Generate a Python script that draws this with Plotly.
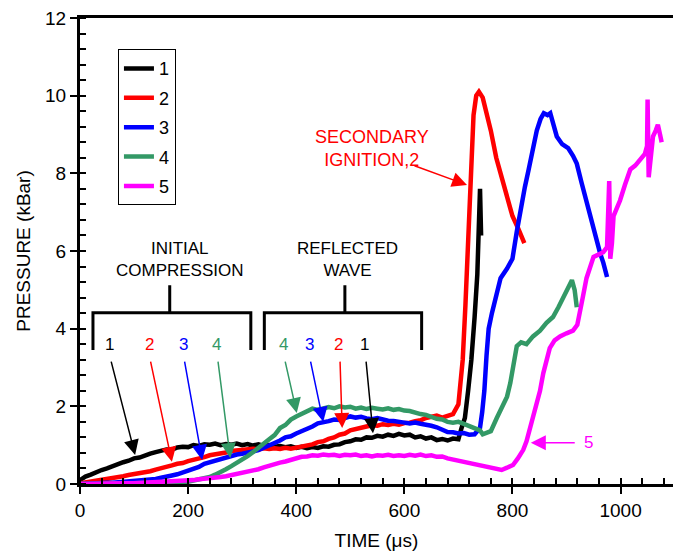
import plotly.graph_objects as go

# Pressure histories (kBar) vs time (microseconds) for gauges 1-5
t1 = [0, 10, 20, 30, 40, 50, 60, 70, 80, 90, 100, 110, 120, 130, 140, 150, 160, 170, 180, 190,
      200, 210, 220, 230, 240, 250, 260, 270, 280, 290, 300, 310, 320, 330, 340, 350, 360, 370,
      380, 390, 400, 410, 420, 430, 440, 450, 460, 470, 480, 490, 500, 510, 520, 530, 540, 550,
      560, 570, 580, 590, 600, 610, 620, 630, 640, 650, 660, 670, 680, 690, 700,
      706, 712, 718, 724, 730, 735, 740, 742]
p1 = [0.10, 0.19, 0.24, 0.31, 0.36, 0.40, 0.46, 0.50, 0.56, 0.60, 0.66, 0.68, 0.74, 0.78, 0.82,
      0.86, 0.89, 0.88, 0.94, 0.96, 0.95, 1.00, 0.98, 1.02, 1.01, 1.04, 1.00, 1.03, 1.01, 1.04,
      1.00, 1.03, 0.99, 1.02, 0.98, 1.00, 0.96, 0.98, 0.95, 0.97, 0.93, 0.96, 0.92, 0.95, 0.93,
      0.97, 0.96, 1.01, 1.02, 1.08, 1.10, 1.15, 1.14, 1.20, 1.19, 1.24, 1.22, 1.27, 1.24, 1.29,
      1.25, 1.27, 1.20, 1.23, 1.17, 1.20, 1.13, 1.16, 1.12, 1.17, 1.15,
      1.45, 1.70, 2.40, 3.20, 4.30, 5.40, 7.60, 6.40]

t2 = [0, 10, 20, 30, 40, 50, 60, 70, 80, 90, 100, 110, 120, 130, 140, 150, 160, 170, 180, 190,
      200, 210, 220, 230, 240, 250, 260, 270, 280, 290, 300, 310, 320, 330, 340, 350, 360, 370,
      380, 390, 400, 410, 420, 430, 440, 450, 460, 470, 480, 490, 500, 510, 520, 530, 540, 550,
      560, 570, 580, 590, 600, 610, 620, 630, 640, 650, 660, 670, 680, 690, 700,
      708, 713, 718, 723, 728, 733, 738, 745, 752, 760, 770, 780, 790, 800, 810, 822]
p2 = [0.02, 0.04, 0.06, 0.08, 0.10, 0.13, 0.15, 0.18, 0.20, 0.23, 0.25, 0.28, 0.31, 0.33, 0.37,
      0.40, 0.44, 0.48, 0.52, 0.54, 0.59, 0.62, 0.66, 0.69, 0.74, 0.76, 0.80, 0.81, 0.85, 0.86,
      0.89, 0.88, 0.91, 0.89, 0.92, 0.90, 0.92, 0.90, 0.93, 0.91, 0.94, 0.95, 0.99, 1.02, 1.08,
      1.10, 1.16, 1.20, 1.27, 1.30, 1.38, 1.42, 1.47, 1.48, 1.51, 1.50, 1.54, 1.52, 1.55, 1.53,
      1.57, 1.58, 1.62, 1.64, 1.70, 1.73, 1.76, 1.71, 1.75, 1.80, 2.05,
      3.20, 4.60, 6.50, 8.20, 9.50, 10.00, 10.10, 9.95, 9.55, 9.10, 8.40, 7.90, 7.30, 6.90, 6.60, 6.20]

t3 = [0, 10, 20, 30, 40, 50, 60, 70, 80, 90, 100, 110, 120, 130, 140, 150, 160, 170, 180, 190,
      200, 210, 220, 230, 240, 250, 260, 270, 280, 290, 300, 310, 320, 330, 340, 350, 360, 370,
      380, 390, 400, 410, 420, 430, 440, 450, 460, 470, 480, 490, 500, 510, 520, 530, 540, 550,
      560, 570, 580, 590, 600, 610, 620, 630, 640, 650, 660, 670, 680, 690, 700, 710, 720, 730,
      740, 744, 748, 752, 756, 762, 770, 778, 790, 800, 808, 815, 823, 830, 836, 845, 852, 858,
      865, 870, 876, 882, 892, 903, 912, 919, 928, 938, 945, 950, 956, 962, 968, 975]
p3 = [0.00, 0.01, 0.01, 0.02, 0.02, 0.03, 0.03, 0.04, 0.05, 0.06, 0.07, 0.09, 0.10, 0.12, 0.13,
      0.16, 0.18, 0.22, 0.25, 0.30, 0.33, 0.39, 0.44, 0.52, 0.56, 0.61, 0.66, 0.69, 0.73, 0.76,
      0.78, 0.80, 0.84, 0.87, 0.93, 0.98, 1.05, 1.12, 1.20, 1.23, 1.30, 1.35, 1.43, 1.48, 1.56,
      1.58, 1.62, 1.66, 1.65, 1.70, 1.74, 1.71, 1.73, 1.69, 1.67, 1.70, 1.66, 1.63, 1.62, 1.59,
      1.58, 1.56, 1.58, 1.55, 1.53, 1.50, 1.46, 1.40, 1.34, 1.33, 1.30, 1.31, 1.27, 1.28,
      1.45, 1.85, 2.40, 3.30, 4.00, 4.40, 4.90, 5.30, 5.55, 5.80, 6.50, 7.10, 7.65, 8.10, 8.50,
      9.10, 9.40, 9.55, 9.50, 9.55, 9.25, 8.95, 8.75, 8.65, 8.45, 8.25, 7.75, 7.20, 6.80, 6.55,
      6.25, 5.95, 5.70, 5.33]

t4 = [0, 20, 40, 60, 80, 100, 120, 140, 160, 180, 200, 210, 220, 230, 240, 250, 260, 270, 280,
      290, 300, 310, 320, 330, 340, 350, 360, 370, 380, 390, 400, 410, 420, 430, 440, 450, 460,
      470, 480, 490, 500, 510, 520, 530, 540, 550, 560, 570, 580, 590, 600, 610, 620, 630, 640,
      650, 660, 670, 680, 690, 700, 710, 720, 730, 740, 745, 760, 771, 780, 790, 796, 801, 808,
      816, 826, 838, 851, 863, 875, 885, 894, 903, 910, 915, 919]
p4 = [0.00, 0.01, 0.01, 0.01, 0.01, 0.02, 0.02, 0.02, 0.03, 0.04, 0.06, 0.09, 0.12, 0.15, 0.18,
      0.24, 0.30, 0.38, 0.46, 0.54, 0.62, 0.72, 0.82, 0.92, 1.02, 1.15, 1.26, 1.44, 1.52, 1.66,
      1.74, 1.80, 1.88, 1.94, 1.91, 1.96, 1.98, 1.95, 2.00, 1.97, 1.99, 1.94, 1.97, 1.93, 1.96,
      1.94, 1.92, 1.95, 1.91, 1.93, 1.89, 1.88, 1.83, 1.80, 1.78, 1.72, 1.68, 1.66, 1.60, 1.58,
      1.60, 1.55, 1.50, 1.44, 1.38, 1.28, 1.36, 1.70, 1.95, 2.25, 2.60, 3.00, 3.55, 3.65, 3.60,
      3.80, 3.95, 4.15, 4.30, 4.55, 4.80, 5.00, 5.25, 5.00, 4.55]

t5 = [0, 20, 40, 60, 80, 100, 120, 140, 160, 180, 200, 210, 220, 230, 240, 250, 260, 270, 280,
      290, 300, 310, 320, 330, 340, 350, 360, 370, 380, 390, 400, 410, 420, 430, 440, 450, 460,
      470, 480, 490, 500, 510, 520, 530, 540, 550, 560, 570, 580, 590, 600, 610, 620, 630, 640,
      650, 660, 670, 680, 690, 700, 710, 720, 730, 740, 750, 760, 770, 780, 790, 801, 810, 820,
      826, 832, 838, 845, 851, 857, 863, 869, 878, 888, 900, 912, 920, 925, 930, 937, 944, 950,
      958, 968, 975, 979, 981, 984, 987, 993, 999, 1008, 1018, 1027, 1036, 1045, 1049, 1050,
      1052, 1055, 1060, 1065, 1069, 1073, 1076]
p5 = [0.00, 0.01, 0.01, 0.01, 0.02, 0.02, 0.03, 0.04, 0.05, 0.07, 0.08, 0.10, 0.12, 0.13, 0.15,
      0.17, 0.18, 0.20, 0.23, 0.25, 0.28, 0.31, 0.34, 0.38, 0.43, 0.48, 0.51, 0.55, 0.58, 0.63,
      0.66, 0.70, 0.71, 0.74, 0.73, 0.76, 0.74, 0.75, 0.72, 0.75, 0.74, 0.76, 0.72, 0.74, 0.71,
      0.74, 0.73, 0.75, 0.72, 0.74, 0.72, 0.75, 0.73, 0.76, 0.72, 0.74, 0.70, 0.71, 0.66, 0.63,
      0.62, 0.58, 0.56, 0.52, 0.49, 0.47, 0.43, 0.40, 0.36, 0.42, 0.49, 0.66, 0.88, 1.10, 1.40,
      1.70, 2.00, 2.40, 2.85, 3.20, 3.50, 3.70, 3.80, 3.88, 3.95, 4.10, 4.40, 4.80, 5.30, 5.60,
      5.85, 5.90, 5.97, 6.10, 7.80, 5.80, 6.20, 6.90, 7.10, 7.30, 7.70, 8.10, 8.20, 8.35, 8.50,
      8.70, 9.90, 7.90, 8.40, 8.95, 9.10, 9.25, 9.00, 8.80]

series_names = ["1", "2", "3", "4", "5"]
series_colors = ["#000000", "#ff0000", "#0000ff", "#339966", "#ff00ff"]
series_t = [t1, t2, t3, t4, t5]
series_p = [p1, p2, p3, p4, p5]

# Gauge labels under the two brackets: (label, label time, arrow-tip time, arrow-tip pressure)
initial_labels = [("1", 55, 102, 0.75), ("2", 128, 170, 0.57), ("3", 191, 226, 0.62), ("4", 253, 278, 0.67)]
reflected_labels = [("4", 377, 401, 1.83), ("3", 424, 450, 1.60), ("2", 479, 485, 1.44), ("1", 527, 542, 1.31)]
label_colors = {"1": "#000000", "2": "#ff0000", "3": "#0000ff", "4": "#339966"}

FONT = "Liberation Sans, Arial, sans-serif"

fig = go.Figure()
for name, color, tt, pp in zip(series_names, series_colors, series_t, series_p):
    fig.add_trace(go.Scatter(x=tt, y=pp, mode="lines", name=name,
                             line=dict(color=color, width=4.5), legendgroup=name))

annotations = []
label_y = 3.58
tail_y = 3.19
for group in (initial_labels, reflected_labels):
    for lab, tx, hx, hy in group:
        c = label_colors[lab]
        annotations.append(dict(x=tx, y=label_y, text=lab, showarrow=False,
                                font=dict(size=17, color=c, family=FONT)))
        annotations.append(dict(x=hx, y=hy, ax=tx + 2, ay=tail_y, axref="x", ayref="y",
                                xref="x", yref="y", text="", showarrow=True,
                                arrowhead=2, arrowsize=2, arrowwidth=1.5, arrowcolor=c))

annotations += [
    dict(x=185, y=5.79, text="INITIAL<br>COMPRESSION", showarrow=False,
         font=dict(size=17, color="black", family=FONT)),
    dict(x=494, y=5.79, text="REFLECTED<br>WAVE", showarrow=False,
         font=dict(size=17, color="black", family=FONT)),
    dict(x=540, y=8.65, text="SECONDARY<br>IGNITION,2", showarrow=False,
         font=dict(size=18, color="#ff0000", family=FONT)),
    dict(x=716, y=7.70, ax=616, ay=8.21, axref="x", ayref="y", text="", showarrow=True,
         arrowhead=2, arrowsize=2, arrowwidth=1.5, arrowcolor="#ff0000"),
    dict(x=928, y=1.06, text="5", showarrow=False, xanchor="left",
         font=dict(size=17, color="#ff00ff", family=FONT)),
    dict(x=834, y=1.06, ax=918, ay=1.06, axref="x", ayref="y", text="", showarrow=True,
         arrowhead=2, arrowsize=2, arrowwidth=1.5, arrowcolor="#ff00ff"),
]

# Brackets grouping the gauges
shapes = []
for left, right, stem in ((24, 316, 166), (341, 632, 490)):
    path = (f"M {left},3.45 L {left},4.41 L {right},4.41 L {right},3.45 "
            f"M {stem},4.41 L {stem},5.12")
    shapes.append(dict(type="path", path=path, xref="x", yref="y",
                       line=dict(color="black", width=3)))

fig.update_layout(
    width=673, height=558,
    margin=dict(l=80, r=0, t=18, b=74),
    paper_bgcolor="white", plot_bgcolor="white",
    font=dict(family=FONT, color="black"),
    annotations=annotations, shapes=shapes,
    legend=dict(x=0.064, y=0.933, xanchor="left", yanchor="top",
                bordercolor="black", borderwidth=1, bgcolor="white",
                font=dict(size=18, family=FONT), tracegroupgap=3),
    showlegend=True,
)
fig.update_xaxes(range=[0, 1097], dtick=200, tick0=0, showgrid=False, zeroline=False,
                 showline=True, linecolor="black", linewidth=3, mirror=True,
                 ticks="outside", ticklen=7, tickwidth=1.5, tickcolor="black",
                 tickfont=dict(size=19, family=FONT),
                 minor=dict(dtick=40, tick0=0, ticks="inside", ticklen=6, tickwidth=1.5,
                            tickcolor="black", showgrid=False),
                 title=dict(text="TIME (μs)", font=dict(size=19, family=FONT), standoff=14))
fig.update_yaxes(range=[0, 12], dtick=2, tick0=0, showgrid=False, zeroline=False,
                 showline=True, linecolor="black", linewidth=3, mirror=False,
                 ticks="outside", ticklen=7, tickwidth=1.5, tickcolor="black",
                 tickfont=dict(size=19, family=FONT),
                 minor=dict(dtick=0.4, tick0=0, ticks="inside", ticklen=6, tickwidth=1.5,
                            tickcolor="black", showgrid=False),
                 title=dict(text="PRESSURE (kBar)", font=dict(size=19, family=FONT), standoff=10))

fig.write_html("out.html")
